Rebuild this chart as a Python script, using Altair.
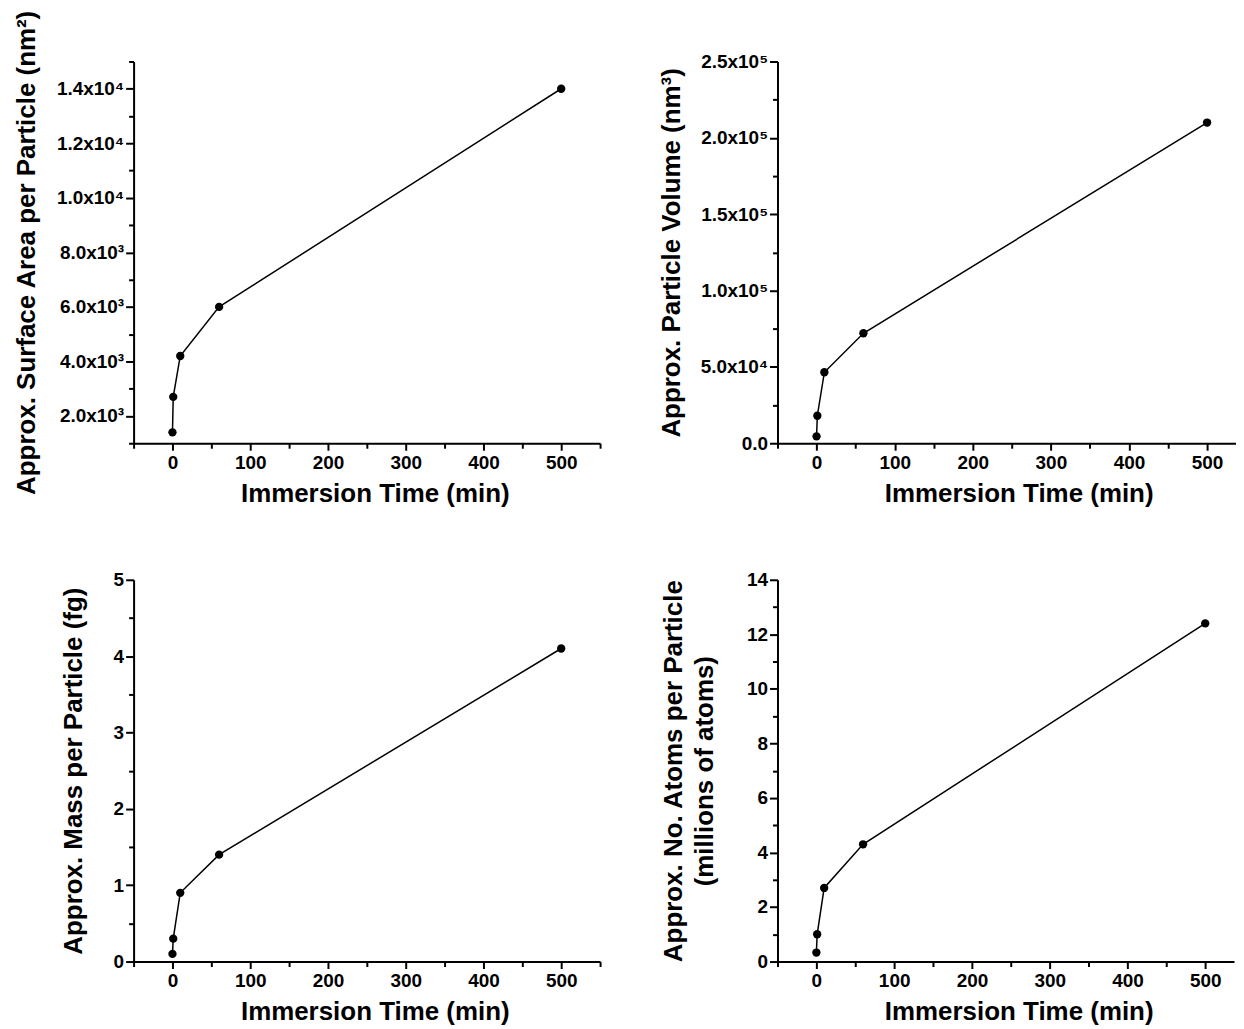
import altair as alt
import pandas as pd

# ---- data ----
times = [0, 1, 10, 60, 500]
surface_area = [1400, 2700, 4200, 6000, 14000]
volume = [4500, 18000, 46500, 72000, 210000]
mass = [0.1, 0.3, 0.9, 1.4, 4.1]
atoms = [0.33, 1.0, 2.7, 4.3, 12.4]

x_title = "Immersion Time (min)"
FONT = "Liberation Sans"
H = 383


def axis_common(**kw):
    base = dict(
        domainColor="black", domainWidth=2, tickColor="black", tickWidth=2,
        labelFont=FONT, labelFontSize=19, labelFontWeight="bold", labelColor="black",
        titleFont=FONT, titleFontSize=26, titleFontWeight="bold", titleColor="black",
        grid=False, labelFlush=False, labelOverlap=False,
    )
    base.update(kw)
    return alt.Axis(**base)


def panel(values, ytitle, ydomain, ystep, ymajor, label_expr, title_x, xmax, width):
    df = pd.DataFrame({"t": times, "v": values})
    xticks = [v for v in range(-50, 551, 50) if v <= xmax]
    n = int(round((ydomain[1] - ydomain[0]) / ystep))
    yticks = [round(ydomain[0] + i * ystep, 6) for i in range(n + 1)]
    x = alt.X(
        "t:Q",
        scale=alt.Scale(domain=[-50, xmax], nice=False, zero=False),
        axis=axis_common(
            title=x_title, values=xticks,
            labelExpr="datum.value % 100 === 0 ? format(datum.value, 'd') : ''",
            tickSize={"condition": {"test": "datum.value % 100 === 0", "value": 7}, "value": 5},
            labelPadding=3,
            titleX=234 + 8, titleY=50, titleBaseline="middle", titleAlign="center",
        ),
    )
    y = alt.Y(
        "v:Q",
        scale=alt.Scale(domain=ydomain, nice=False, zero=False),
        axis=axis_common(
            title=ytitle, values=yticks, labelExpr=label_expr,
            tickSize={"condition": {"test": f"abs(datum.value % {ymajor}) < 1e-6 || abs(datum.value % {ymajor} - {ymajor}) < 1e-6", "value": 8}, "value": 5},
            labelPadding=2,
            titleAngle=-90, titleX=title_x, titleY=H / 2,
            titleBaseline="middle", titleAlign="center", titleLineHeight=31,
        ),
    )
    line = alt.Chart(df).mark_line(color="black", strokeWidth=1.5).encode(x=x, y=y)
    pts = alt.Chart(df).mark_circle(color="black", opacity=1, size=70).encode(x=x, y=y)
    return alt.layer(line, pts).properties(width=width, height=H)


p1 = panel(
    surface_area, "Approx. Surface Area per Particle (nm²)", [1000, 15000], 1000, 2000,
    "datum.value % 2000 !== 0 ? '' : (datum.value >= 10000 ? format(datum.value/10000, '.1f') + 'x10⁴' : format(datum.value/1000, '.1f') + 'x10³')",
    -107, 550, 468,
)
p2 = panel(
    volume, "Approx. Particle Volume (nm³)", [0, 250000], 25000, 50000,
    "datum.value % 50000 !== 0 ? '' : (datum.value === 0 ? '0.0' : (datum.value < 100000 ? format(datum.value/10000, '.1f') + 'x10⁴' : format(datum.value/100000, '.1f') + 'x10⁵'))",
    -106, 537, 460,
)
p3 = panel(
    mass, "Approx. Mass per Particle (fg)", [0, 5], 0.5, 1,
    "datum.value % 1 !== 0 ? '' : format(datum.value, 'd')",
    -60, 550, 468,
)
p4 = panel(
    atoms, ["Approx. No. Atoms per Particle", "(millions of atoms)"], [0, 14], 1, 2,
    "datum.value % 2 !== 0 ? '' : format(datum.value, 'd')",
    -104, 537, 458,
)

chart = alt.concat(p1, p2, p3, p4, columns=2).properties(
    spacing={"row": 137, "column": 178},
    bounds="flush",
    padding={"left": 5, "top": 0, "right": 0, "bottom": 0},
    background="white",
).configure_view(stroke=None)

chart.save("out.html", embed_options={"renderer": "svg", "actions": False})
